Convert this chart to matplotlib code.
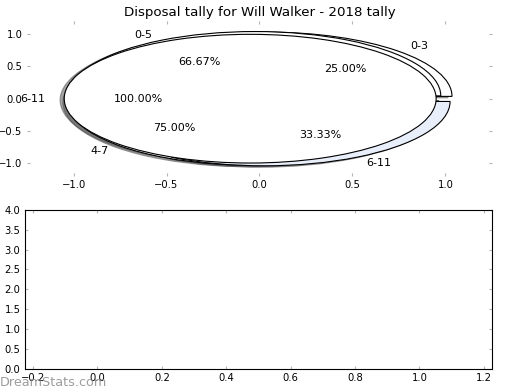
"""
Disposal tally pie chart (Will Walker, 2018)
"""
import matplotlib
matplotlib.use('Agg')
import matplotlib.pyplot as plt
import numpy as np

plt.rcParams['font.family'] = ['DejaVu Sans']

# ========== data ==========
labels_a = ['0-3', '4-7']
values_a = [1, 3]
labels_b = ['0-5', '6-11']
values_b = [2, 1]
labels_c = ['6-11']
values_c = [1]

title = 'Disposal tally for Will Walker - 2018 tally'
pie_xticks = [-1.0, -0.5, 0.0, 0.5, 1.0]
pie_yticks = [-1.0, -0.5, 0.0, 0.5, 1.0]
low_xticks = [-0.2, 0.0, 0.2, 0.4, 0.6, 0.8, 1.0, 1.2]
low_yticks = [0.0, 0.5, 1.0, 1.5, 2.0, 2.5, 3.0, 3.5, 4.0]

LIGHT = '#e8eefa'
TICK_GREY = '#b4b4b4'

fig = plt.figure(figsize=(6.5, 4.875), dpi=80)
ax1 = fig.add_axes([0.052, 0.549, 0.894, 0.396])
ax2 = fig.add_axes([0.048, 0.054, 0.898, 0.408])

# ========== pies ==========
pies = [
    (values_a, labels_a, ['white', 'white']),
    (values_b, labels_b, ['white', LIGHT]),
    (values_c, labels_c, ['white']),
]
for vals, labs, cols in pies:
    ax1.pie(vals, labels=labs, colors=cols, explode=[0.05] * len(vals),
            autopct='%.2f%%', shadow=True, frame=True,
            wedgeprops=dict(edgecolor='black', linewidth=1),
            textprops=dict(fontsize=10))

ax1.set_aspect('auto')
ax1.set_xlim(-1.25, 1.25)
ax1.set_ylim(-1.2, 1.2)
ax1.set_xticks(pie_xticks)
ax1.set_yticks(pie_yticks)
for s in ax1.spines.values():
    s.set_visible(False)
ax1.set_title(title, fontsize=12, pad=5)

# ========== empty lower axes ==========
ax2.set_xlim(-0.225, 1.225)
ax2.set_ylim(0, 4)
ax2.set_xticks(low_xticks)
ax2.set_yticks(low_yticks)
for s in ax2.spines.values():
    s.set_color('black')
    s.set_linewidth(1)

for ax in (ax1, ax2):
    ax.tick_params(direction='in', color=TICK_GREY, length=3, width=1,
                   top=True, right=True, labelsize=9, pad=4)

fig.text(0.0, 0.0103, 'DreamStats.com', fontsize=11.5, color='#8c8c8c',
         alpha=0.85, va='baseline', ha='left', zorder=0)

fig.savefig('out.png', dpi=80)
